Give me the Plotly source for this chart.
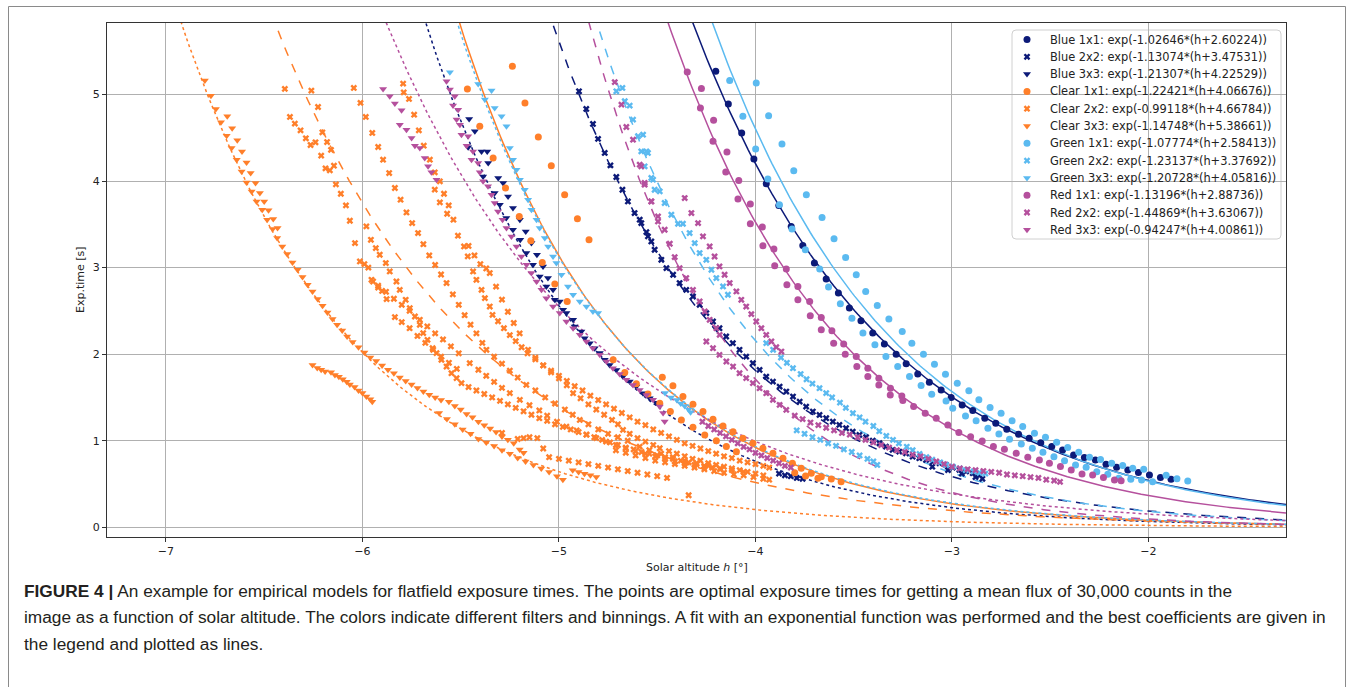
import numpy as np
import plotly.graph_objects as go

# ---------------- data ----------------
# fit coefficients from the legend: t = exp(A*(h+B))
FIT_LABELS = ["Blue 1x1", "Blue 2x2", "Blue 3x3", "Clear 1x1", "Clear 2x2", "Clear 3x3",
              "Green 1x1", "Green 2x2", "Green 3x3", "Red 1x1", "Red 2x2", "Red 3x3"]
FIT_A = [-1.02646, -1.13074, -1.21307, -1.22421, -0.99118, -1.14748,
         -1.07774, -1.23137, -1.20728, -1.13196, -1.44869, -0.94247]
FIT_B = [2.60224, 3.47531, 4.22529, 4.06676, 4.66784, 5.38661,
         2.58413, 3.37692, 4.05816, 2.88736, 3.63067, 4.00861]
FIT_TEXT_A = ["-1.02646", "-1.13074", "-1.21307", "-1.22421", "-0.99118", "-1.14748",
              "-1.07774", "-1.23137", "-1.20728", "-1.13196", "-1.44869", "-0.94247"]
FIT_TEXT_B = ["2.60224", "3.47531", "4.22529", "4.06676", "4.66784", "5.38661",
              "2.58413", "3.37692", "4.05816", "2.88736", "3.63067", "4.00861"]

BLUE_1X1 = [(-4.202, 5.267), (-4.138, 4.890), (-4.070, 4.555), (-4.008, 4.254), (-3.945, 3.969),
            (-3.881, 3.718), (-3.818, 3.475), (-3.759, 3.256), (-3.700, 3.052), (-3.640, 2.867),
            (-3.578, 2.705), (-3.522, 2.532), (-3.463, 2.385), (-3.403, 2.243), (-3.344, 2.116),
            (-3.284, 2.000), (-3.233, 1.888), (-3.174, 1.772), (-3.115, 1.676), (-3.055, 1.587),
            (-3.004, 1.498), (-2.948, 1.414), (-2.894, 1.348), (-2.833, 1.260), (-2.777, 1.202),
            (-2.721, 1.133), (-2.661, 1.075), (-2.607, 1.029), (-2.548, 0.978), (-2.492, 0.932),
            (-2.437, 0.894), (-2.381, 0.836), (-2.326, 0.805), (-2.270, 0.778), (-2.216, 0.728),
            (-2.162, 0.693), (-2.105, 0.662), (-2.051, 0.632), (-1.995, 0.605), (-1.939, 0.574),
            (-1.885, 0.555)]

BLUE_2X2 = [(-4.898, 5.036), (-4.861, 4.832), (-4.827, 4.659), (-4.801, 4.486), (-4.767, 4.324),
            (-4.738, 4.181), (-4.708, 4.046), (-4.677, 3.899), (-4.649, 3.764), (-4.615, 3.630),
            (-4.589, 3.553), (-4.581, 3.514), (-4.555, 3.410), (-4.547, 3.360), (-4.530, 3.302),
            (-4.513, 3.206), (-4.479, 3.090), (-4.453, 2.994), (-4.419, 2.917), (-4.386, 2.821),
            (-4.352, 2.743), (-4.318, 2.666), (-4.284, 2.570), (-4.250, 2.474), (-4.216, 2.377),
            (-4.183, 2.300), (-4.149, 2.204), (-4.115, 2.127), (-4.081, 2.050), (-4.047, 1.972),
            (-4.013, 1.896), (-3.979, 1.818), (-3.945, 1.741), (-3.911, 1.683), (-3.877, 1.625),
            (-3.843, 1.568), (-3.809, 1.510), (-3.775, 1.452), (-3.742, 1.394), (-3.708, 1.337),
            (-3.674, 1.298), (-3.640, 1.260), (-3.606, 1.221), (-3.573, 1.183), (-3.539, 1.144),
            (-3.505, 1.105), (-3.471, 1.067), (-3.437, 1.040), (-3.403, 1.001), (-3.369, 0.971),
            (-3.336, 0.932), (-3.302, 0.894), (-3.268, 0.874), (-3.234, 0.855), (-3.200, 0.816),
            (-3.166, 0.798), (-3.132, 0.778), (-3.098, 0.758), (-3.063, 0.740), (-3.030, 0.720),
            (-2.996, 0.690), (-2.962, 0.665), (-2.928, 0.645), (-2.894, 0.625), (-2.860, 0.600),
            (-2.845, 0.560), (-3.10, 0.70), (-3.02, 0.66), (-2.95, 0.62), (-2.88, 0.58),
            (-3.88, 0.62), (-3.85, 0.60), (-3.82, 0.59), (-3.79, 0.57), (-3.76, 0.56)]

BLUE_3X3 = [(-5.457, 4.716), (-5.428, 4.574), (-5.462, 4.389), (-5.394, 4.342), (-5.365, 4.342),
            (-5.360, 4.208), (-5.386, 4.053), (-5.309, 4.034), (-5.284, 3.977), (-5.327, 3.861),
            (-5.259, 3.822), (-5.301, 3.726), (-5.234, 3.688), (-5.268, 3.572), (-5.199, 3.553),
            (-5.234, 3.437), (-5.169, 3.418), (-5.197, 3.321), (-5.140, 3.283), (-5.166, 3.168),
            (-5.112, 3.148), (-5.132, 3.032), (-5.081, 3.013), (-5.098, 2.897), (-5.056, 2.879),
            (-5.064, 2.782), (-5.030, 2.743), (-5.021, 2.628), (-4.996, 2.608), (-4.979, 2.512),
            (-4.962, 2.474), (-4.928, 2.397), (-4.920, 2.319), (-4.886, 2.261), (-4.869, 2.185),
            (-4.843, 2.127), (-4.818, 2.069), (-4.792, 2.012), (-4.767, 1.934), (-4.742, 1.876),
            (-4.708, 1.818), (-4.674, 1.741), (-4.640, 1.683), (-4.606, 1.625), (-4.572, 1.549),
            (-4.538, 1.491), (-4.504, 1.440)]

CLEAR_1X1 = [(-5.237, 5.325), (-5.466, 5.064), (-5.173, 4.902), (-5.403, 4.631), (-5.105, 4.509),
             (-5.335, 4.266), (-5.039, 4.177), (-5.272, 3.919), (-4.971, 3.842), (-5.202, 3.591),
             (-4.906, 3.564), (-5.143, 3.310), (-4.847, 3.321), (-5.085, 3.059), (-5.021, 2.809),
             (-4.958, 2.608), (-4.724, 1.934), (-4.665, 1.788), (-4.606, 1.657), (-4.547, 1.541),
             (-4.474, 1.734), (-4.420, 1.634), (-4.369, 1.510), (-4.318, 1.422), (-4.267, 1.337),
             (-4.216, 1.248), (-4.165, 1.171), (-4.114, 1.105), (-4.064, 1.029), (-4.013, 0.971),
             (-3.962, 0.913), (-4.487, 1.434), (-4.433, 1.337), (-4.377, 1.240), (-4.318, 1.156),
             (-4.258, 1.067), (-4.199, 1.001), (-4.148, 0.932), (-4.097, 0.874), (-3.911, 0.855),
             (-3.860, 0.798), (-3.812, 0.740), (-3.767, 0.682), (-3.716, 0.624), (-3.665, 0.585),
             (-3.614, 0.558), (-3.564, 0.527), (-3.800, 0.631), (-3.745, 0.593), (-3.682, 0.566)]

CLEAR_2X2 = [
    # band A
    (-6.395, 5.064), (-6.369, 4.740), (-6.344, 4.663), (-6.315, 4.585), (-6.288, 4.493),
    (-6.264, 4.416), (-6.239, 4.447), (-6.210, 4.293), (-6.188, 4.146), (-6.166, 4.123),
    (-6.145, 4.177), (-6.135, 3.961), (-6.110, 3.853), (-6.084, 3.718), (-6.064, 3.541),
    (-6.038, 3.283), (-6.013, 3.071), (-5.990, 3.040), (-5.970, 3.000), (-5.946, 2.839),
    (-5.920, 2.770), (-5.900, 2.730), (-5.877, 2.636), (-5.835, 2.428), (-5.800, 2.370),
    (-5.760, 2.300), (-5.720, 2.210), (-5.680, 2.130), (-5.640, 2.050), (-5.600, 1.970),
    (-5.560, 1.900), (-5.520, 1.830),
    (-6.260, 5.044), (-6.226, 4.855), (-6.204, 4.562), (-6.180, 4.450), (-6.160, 4.360),
    # band B
    (-6.044, 5.075), (-6.010, 4.902), (-5.983, 4.740), (-5.950, 4.555), (-5.920, 4.393),
    (-5.895, 4.246), (-5.864, 4.092), (-5.835, 3.919), (-5.806, 3.784), (-5.776, 3.637),
    (-5.747, 3.514), (-5.717, 3.399), (-5.690, 3.270), (-5.660, 3.140), (-5.630, 3.030),
    (-5.600, 2.920), (-5.572, 2.821), (-5.540, 2.690), (-5.510, 2.570), (-5.480, 2.450),
    (-5.450, 2.340), (-5.420, 2.240), (-5.390, 2.130), (-5.369, 2.050), (-5.330, 1.970),
    (-5.290, 1.890), (-5.250, 1.810), (-5.210, 1.730), (-5.166, 1.645), (-5.120, 1.580),
    (-5.070, 1.500), (-5.020, 1.430), (-4.970, 1.360), (-4.930, 1.300), (-4.894, 1.240),
    (-4.850, 1.190), (-4.800, 1.130), (-4.750, 1.080), (-4.700, 1.040), (-4.650, 1.000),
    (-4.589, 0.932), (-4.540, 0.890), (-4.480, 0.850), (-4.420, 0.810), (-4.360, 0.770),
    (-4.300, 0.740), (-4.240, 0.710), (-4.180, 0.680), (-4.120, 0.660), (-4.060, 0.640),
    # band C
    (-5.793, 5.125), (-5.790, 5.024), (-5.763, 4.948), (-5.737, 4.766), (-5.713, 4.585),
    (-5.688, 4.408), (-5.657, 4.246), (-5.632, 4.100), (-5.606, 3.996), (-5.632, 3.900),
    (-5.585, 3.853), (-5.606, 3.753), (-5.561, 3.718), (-5.569, 3.622), (-5.537, 3.553),
    (-5.514, 3.368), (-5.483, 3.244), (-5.464, 3.129), (-5.437, 2.955), (-5.420, 2.859),
    (-5.394, 2.743), (-5.377, 2.647), (-5.352, 2.550), (-5.338, 2.454), (-5.310, 2.380),
    (-5.280, 2.300), (-5.250, 2.220), (-5.220, 2.150), (-5.190, 2.080), (-5.160, 2.010),
    (-5.120, 1.940), (-5.080, 1.870), (-5.040, 1.810), (-5.000, 1.750), (-4.960, 1.690),
    (-4.920, 1.630), (-4.880, 1.580), (-4.840, 1.520), (-4.800, 1.470), (-4.760, 1.420),
    (-4.720, 1.370), (-4.680, 1.320), (-4.640, 1.270), (-4.600, 1.220), (-4.560, 1.180),
    (-4.520, 1.130), (-4.480, 1.090), (-4.440, 1.050), (-4.400, 1.010), (-4.360, 0.970),
    (-4.320, 0.940), (-4.280, 0.910), (-4.240, 0.880), (-4.200, 0.850), (-4.160, 0.820),
    (-4.120, 0.800), (-4.080, 0.770), (-4.040, 0.750), (-4.000, 0.730), (-3.960, 0.710),
    (-3.930, 0.690),
    # band D
    (-5.980, 3.476), (-5.957, 3.321), (-5.932, 3.225), (-5.912, 3.148), (-5.881, 3.052),
    (-5.861, 2.955), (-5.827, 2.839), (-5.810, 2.743), (-5.780, 2.628), (-5.759, 2.532),
    (-5.733, 2.435), (-5.708, 2.339), (-5.691, 2.243), (-5.669, 2.165), (-5.643, 2.069),
    (-5.623, 2.012), (-5.598, 1.934), (-5.572, 1.857), (-5.547, 1.780), (-5.521, 1.723),
    (-5.496, 1.665), (-5.460, 1.620), (-5.420, 1.580), (-5.380, 1.540), (-5.340, 1.500),
    (-5.300, 1.460), (-5.260, 1.420), (-5.220, 1.380), (-5.180, 1.340), (-5.140, 1.300),
    (-5.100, 1.260), (-5.060, 1.230), (-5.020, 1.190), (-4.980, 1.160), (-4.940, 1.130),
    (-4.900, 1.100), (-4.860, 1.070), (-4.820, 1.040), (-4.780, 1.010), (-4.740, 0.980),
    (-4.700, 0.950), (-4.660, 0.920), (-4.620, 0.900), (-4.580, 0.870), (-4.540, 0.850),
    (-4.500, 0.830), (-4.460, 0.810), (-4.420, 0.790), (-4.380, 0.770), (-4.340, 0.750),
    (-4.300, 0.730), (-4.260, 0.710), (-4.220, 0.690), (-4.180, 0.670),
    # band E
    (-5.460, 3.250), (-5.430, 3.140), (-5.400, 3.040), (-5.370, 2.990), (-5.352, 2.937),
    (-5.320, 2.780), (-5.290, 2.630), (-5.260, 2.490), (-5.230, 2.360), (-5.200, 2.240),
    (-5.157, 2.050), (-5.120, 1.960), (-5.080, 1.870), (-5.040, 1.790), (-5.000, 1.720),
    (-4.960, 1.640), (-4.928, 1.549), (-4.890, 1.490), (-4.850, 1.420), (-4.810, 1.360),
    (-4.770, 1.300), (-4.730, 1.240), (-4.700, 1.190), (-4.674, 1.125), (-4.640, 1.080),
    (-4.600, 1.030), (-4.560, 0.990), (-4.520, 0.950), (-4.487, 0.913), (-4.440, 0.880),
    (-4.400, 0.850), (-4.360, 0.820), (-4.320, 0.790), (-4.280, 0.770), (-4.240, 0.740),
    (-4.200, 0.720), (-4.160, 0.700), (-4.120, 0.680), (-4.080, 0.660), (-4.040, 0.640),
    (-4.000, 0.620), (-3.960, 0.600),
    # band F
    (-5.954, 2.859), (-5.920, 2.790), (-5.880, 2.720), (-5.840, 2.640), (-5.800, 2.570),
    (-5.760, 2.500), (-5.708, 2.397), (-5.670, 2.320), (-5.630, 2.240), (-5.590, 2.170),
    (-5.550, 2.090), (-5.510, 2.010), (-5.454, 1.896), (-5.410, 1.820), (-5.370, 1.750),
    (-5.330, 1.680), (-5.290, 1.610), (-5.250, 1.550), (-5.199, 1.472), (-5.150, 1.410),
    (-5.100, 1.350), (-5.060, 1.290), (-5.010, 1.220), (-4.962, 1.163), (-4.910, 1.120),
    (-4.860, 1.070), (-4.810, 1.030), (-4.760, 0.990), (-4.710, 0.950), (-4.660, 0.910),
    (-4.610, 0.880), (-4.560, 0.850), (-4.510, 0.820), (-4.460, 0.790), (-4.410, 0.760),
    (-4.360, 0.740), (-4.310, 0.720), (-4.260, 0.700),
    # band G
    (-5.050, 0.810), (-5.000, 0.790), (-4.950, 0.770), (-4.900, 0.750), (-4.850, 0.730),
    (-4.800, 0.710), (-4.750, 0.690), (-4.700, 0.670), (-4.650, 0.650), (-4.600, 0.630),
    (-4.550, 0.610), (-4.500, 0.590), (-4.450, 0.570),
    # band H
    (-4.710, 0.890), (-4.660, 0.860), (-4.610, 0.830), (-4.560, 0.800), (-4.510, 0.770),
    (-4.460, 0.750), (-4.410, 0.730), (-4.360, 0.710), (-4.310, 0.690), (-4.260, 0.670),
    (-4.210, 0.650), (-4.160, 0.630), (-4.110, 0.610), (-4.060, 0.600), (-4.010, 0.580),
    (-3.960, 0.560), (-3.930, 0.550),
    # scattered
    (-5.290, 1.090), (-5.210, 1.020), (-5.180, 1.030), (-5.150, 1.040), (-5.110, 1.030),
    (-5.080, 0.910), (-4.340, 0.370)]

CLEAR_3X3 = [
    # upper band, row a
    (-6.802, 5.160), (-6.771, 4.986), (-6.746, 4.832), (-6.720, 4.678), (-6.691, 4.524),
    (-6.666, 4.381), (-6.640, 4.246), (-6.615, 4.111), (-6.590, 3.984), (-6.564, 3.880),
    (-6.539, 3.764), (-6.510, 3.668), (-6.485, 3.553), (-6.457, 3.445), (-6.434, 3.341),
    (-6.408, 3.244), (-6.383, 3.156), (-6.356, 3.059), (-6.330, 2.975), (-6.305, 2.890),
    (-6.279, 2.801), (-6.254, 2.724), (-6.228, 2.636), (-6.203, 2.558), (-6.178, 2.481),
    (-6.152, 2.405), (-6.129, 2.339), (-6.103, 2.273), (-6.078, 2.204),
    # row b
    (-6.688, 4.747), (-6.663, 4.608), (-6.637, 4.470), (-6.613, 4.342), (-6.590, 4.215),
    (-6.569, 4.092), (-6.544, 3.977), (-6.522, 3.861), (-6.500, 3.764), (-6.478, 3.661),
    (-6.454, 3.561), (-6.432, 3.457),
    # continuation
    (-6.050, 2.140), (-6.020, 2.080), (-5.990, 2.020), (-5.960, 1.960), (-5.930, 1.920),
    (-5.900, 1.870), (-5.870, 1.820), (-5.840, 1.780), (-5.810, 1.730), (-5.780, 1.690),
    (-5.750, 1.650), (-5.720, 1.610), (-5.690, 1.570), (-5.660, 1.530), (-5.630, 1.500),
    (-5.600, 1.470), (-5.560, 1.450), (-5.530, 1.400), (-5.500, 1.360), (-5.470, 1.310),
    (-5.440, 1.270), (-5.410, 1.220), (-5.380, 1.180), (-5.350, 1.140), (-5.320, 1.100),
    (-5.290, 1.050), (-5.260, 1.010), (-5.230, 0.970), (-5.200, 0.900), (-5.180, 0.860),
    # short lower band
    (-6.254, 1.876), (-6.230, 1.840), (-6.210, 1.820), (-6.190, 1.800), (-6.160, 1.790),
    (-6.140, 1.760), (-6.120, 1.740), (-6.100, 1.710), (-6.080, 1.680), (-6.064, 1.650),
    (-6.040, 1.620), (-6.020, 1.580), (-6.000, 1.550), (-5.980, 1.510), (-5.960, 1.480),
    (-5.950, 1.450),
    # lowest band
    (-5.610, 1.320), (-5.570, 1.250), (-5.530, 1.190), (-5.490, 1.130), (-5.450, 1.080),
    (-5.410, 1.020), (-5.370, 0.980), (-5.330, 0.940), (-5.290, 0.890), (-5.250, 0.850),
    (-5.210, 0.800), (-5.170, 0.760), (-5.130, 0.720), (-5.090, 0.680), (-5.050, 0.640),
    (-5.010, 0.590), (-4.980, 0.550),
    (-4.930, 0.660), (-4.900, 0.640), (-4.870, 0.620), (-4.840, 0.600), (-4.810, 0.580)]

GREEN_1X1 = [(-4.131, 5.160), (-3.996, 5.133), (-4.064, 4.747), (-3.933, 4.755), (-3.999, 4.370),
             (-3.865, 4.428), (-3.937, 4.023), (-3.805, 4.119), (-3.878, 3.726), (-3.741, 3.842),
             (-3.814, 3.445), (-3.661, 3.579), (-3.746, 3.206), (-3.600, 3.333), (-3.673, 2.983),
             (-3.541, 3.117), (-3.628, 2.775), (-3.487, 2.917), (-3.568, 2.582), (-3.439, 2.724),
             (-3.509, 2.416), (-3.380, 2.562), (-3.453, 2.243), (-3.321, 2.405), (-3.392, 2.108),
             (-3.253, 2.261), (-3.336, 1.972), (-3.204, 2.127), (-3.276, 1.857), (-3.145, 2.000),
             (-3.216, 1.741), (-3.089, 1.884), (-3.157, 1.637), (-3.033, 1.769), (-3.103, 1.538),
             (-2.973, 1.665), (-3.030, 1.460), (-2.914, 1.576), (-2.996, 1.376), (-2.863, 1.472),
             (-2.806, 1.383), (-2.750, 1.318), (-2.694, 1.232), (-2.640, 1.163), (-2.580, 1.087),
             (-2.524, 1.040), (-2.467, 0.983), (-2.411, 0.921), (-2.355, 0.867), (-2.300, 0.809),
             (-2.244, 0.782), (-2.187, 0.740), (-2.131, 0.713), (-2.080, 0.682), (-2.024, 0.671),
             (-1.910, 0.600), (-1.855, 0.560), (-1.800, 0.535),
             (-2.931, 1.287), (-2.877, 1.232), (-2.817, 1.144), (-2.761, 1.079), (-2.707, 1.017),
             (-2.647, 0.963), (-2.591, 0.913), (-2.537, 0.867), (-2.481, 0.816), (-2.427, 0.770),
             (-2.371, 0.720), (-2.317, 0.693), (-2.263, 0.643), (-2.207, 0.613), (-2.151, 0.566),
             (-2.090, 0.556), (-2.035, 0.547), (-1.979, 0.527)]

GREEN_2X2 = [(-4.708, 5.036), (-4.677, 5.075), (-4.665, 4.921), (-4.640, 4.871), (-4.623, 4.709),
             (-4.598, 4.516), (-4.581, 4.342), (-4.547, 4.324), (-4.564, 4.169), (-4.530, 4.035),
             (-4.513, 3.899), (-4.572, 4.535), (-4.555, 4.342), (-4.521, 4.015), (-4.487, 3.880),
             (-4.462, 3.746), (-4.428, 3.610), (-4.394, 3.506), (-4.369, 3.506), (-4.335, 3.399),
             (-4.309, 3.283), (-4.284, 3.168), (-4.250, 3.090), (-4.224, 2.975), (-4.199, 2.879),
             (-4.165, 2.782), (-4.140, 2.686),
             (-3.945, 2.127), (-3.910, 2.050), (-3.870, 1.960), (-3.840, 1.900), (-3.809, 1.838),
             (-3.770, 1.770), (-3.740, 1.710), (-3.710, 1.660), (-3.674, 1.607), (-3.640, 1.550),
             (-3.610, 1.500), (-3.570, 1.440), (-3.540, 1.380), (-3.504, 1.318), (-3.470, 1.270),
             (-3.440, 1.220), (-3.400, 1.170), (-3.370, 1.110), (-3.334, 1.055), (-3.300, 1.010),
             (-3.270, 0.970), (-3.230, 0.930), (-3.200, 0.890), (-3.165, 0.847), (-3.130, 0.810),
             (-3.100, 0.780), (-3.060, 0.750), (-3.030, 0.720), (-2.995, 0.701), (-2.960, 0.680),
             (-2.930, 0.660), (-2.890, 0.645), (-2.860, 0.630), (-2.830, 0.620),
             (-3.790, 1.120), (-3.750, 1.080), (-3.710, 1.040), (-3.670, 1.010), (-3.630, 0.970),
             (-3.590, 0.940), (-3.550, 0.900), (-3.510, 0.870), (-3.470, 0.830), (-3.430, 0.790),
             (-3.400, 0.760), (-3.380, 0.720)]

GREEN_3X3 = [(-5.555, 5.256), (-5.411, 5.121), (-5.343, 5.044), (-5.377, 4.940), (-5.327, 4.844),
             (-5.292, 4.747), (-5.267, 4.631), (-5.250, 4.382), (-5.234, 4.246), (-5.216, 4.131),
             (-5.199, 4.015), (-5.174, 3.899), (-5.157, 3.784), (-5.140, 3.668), (-5.114, 3.553),
             (-5.098, 3.457), (-5.072, 3.341), (-5.055, 3.244), (-5.030, 3.128), (-5.013, 3.052),
             (-4.987, 2.917), (-4.954, 2.782), (-4.928, 2.686), (-4.894, 2.608), (-4.860, 2.550),
             (-4.827, 2.493), (-4.801, 2.474),
             (-4.460, 1.550), (-4.430, 1.500), (-4.400, 1.470), (-4.380, 1.430), (-4.360, 1.400),
             (-4.340, 1.360), (-4.330, 1.330)]

RED_1X1 = [(-4.347, 5.260), (-4.275, 5.067), (-4.280, 4.844), (-4.213, 4.701), (-4.216, 4.458),
           (-4.145, 4.335), (-4.151, 4.104), (-4.085, 4.007), (-4.089, 3.792), (-4.026, 3.734),
           (-4.026, 3.506), (-3.965, 3.468), (-3.962, 3.252), (-3.906, 3.214), (-3.902, 3.021),
           (-3.843, 2.983), (-3.840, 2.801), (-3.784, 2.782), (-3.784, 2.628), (-3.724, 2.608),
           (-3.721, 2.443), (-3.665, 2.423), (-3.665, 2.281), (-3.611, 2.269), (-3.602, 2.127),
           (-3.551, 2.116), (-3.543, 2.000), (-3.487, 1.972), (-3.484, 1.857), (-3.428, 1.838),
           (-3.428, 1.741), (-3.372, 1.723), (-3.372, 1.645), (-3.313, 1.607), (-3.314, 1.529),
           (-3.255, 1.518), (-3.250, 1.464), (-3.195, 1.394), (-3.136, 1.318), (-3.080, 1.260),
           (-3.021, 1.183), (-2.965, 1.094), (-2.905, 1.047), (-2.846, 0.998), (-2.789, 0.932),
           (-2.733, 0.901), (-2.673, 0.855), (-2.614, 0.809), (-2.555, 0.778), (-2.504, 0.740),
           (-2.448, 0.701), (-2.393, 0.662), (-2.338, 0.616), (-2.284, 0.605), (-2.229, 0.574),
           (-2.173, 0.547), (-2.139, 0.539)]

RED_2X2 = [(-4.716, 5.142), (-4.682, 4.882), (-4.657, 4.624), (-4.623, 4.477), (-4.589, 4.189),
           (-4.564, 3.977), (-4.530, 3.764), (-4.496, 3.533),
           (-4.581, 4.169), (-4.564, 3.957), (-4.530, 3.764), (-4.496, 3.591), (-4.462, 3.437),
           (-4.436, 3.275), (-4.411, 3.121), (-4.386, 2.994), (-4.352, 2.879), (-4.318, 2.743),
           (-4.284, 2.608), (-4.258, 2.493), (-4.233, 2.397), (-4.199, 2.300), (-4.182, 2.223),
           (-4.360, 3.803), (-4.326, 3.630), (-4.292, 3.514), (-4.267, 3.360), (-4.233, 3.244),
           (-4.208, 3.128), (-4.183, 3.013), (-4.157, 2.917), (-4.131, 2.821), (-4.097, 2.724),
           (-4.072, 2.628), (-4.047, 2.550), (-4.021, 2.462), (-3.996, 2.377), (-3.970, 2.300),
           (-3.945, 2.223), (-3.919, 2.146), (-3.894, 2.081), (-3.868, 2.030),
           (-4.250, 2.146), (-4.216, 2.069), (-4.183, 1.992), (-4.148, 1.915), (-4.114, 1.857),
           (-4.081, 1.780), (-4.047, 1.723), (-4.013, 1.665), (-3.979, 1.607), (-3.945, 1.549),
           (-3.911, 1.472), (-3.877, 1.414), (-3.843, 1.356), (-3.800, 1.290), (-3.760, 1.250),
           (-3.720, 1.210), (-3.680, 1.180), (-3.640, 1.150), (-3.600, 1.120), (-3.560, 1.090),
           (-3.520, 1.070), (-3.480, 1.040), (-3.440, 1.010), (-3.400, 0.980), (-3.360, 0.950),
           (-3.320, 0.920), (-3.280, 0.890), (-3.240, 0.870), (-3.200, 0.840), (-3.160, 0.820),
           (-3.120, 0.790), (-3.080, 0.760), (-3.040, 0.730), (-3.000, 0.700), (-2.960, 0.680),
           (-2.920, 0.670), (-2.880, 0.660), (-2.840, 0.650), (-2.800, 0.640), (-2.760, 0.630),
           (-2.720, 0.610), (-2.680, 0.600), (-2.640, 0.590), (-2.600, 0.580), (-2.560, 0.570),
           (-2.520, 0.550), (-2.480, 0.540), (-2.450, 0.525),
           (-4.270, 1.220), (-4.240, 1.170), (-4.210, 1.130), (-4.180, 1.090), (-4.150, 1.050),
           (-4.120, 1.010), (-4.090, 0.970), (-4.060, 0.930), (-4.030, 0.900), (-4.000, 0.860),
           (-3.970, 0.830), (-3.940, 0.800), (-3.910, 0.770), (-3.880, 0.740), (-3.850, 0.710),
           (-3.820, 0.690)]

RED_3X3 = [(-5.895, 5.064), (-5.861, 4.978), (-5.835, 4.894), (-5.801, 4.816), (-5.810, 4.651),
           (-5.776, 4.593), (-5.750, 4.497), (-5.733, 4.408), (-5.708, 4.382), (-5.683, 4.266),
           (-5.666, 4.169), (-5.649, 4.100), (-5.623, 4.015),
           (-5.572, 5.152), (-5.555, 5.056), (-5.530, 4.978), (-5.539, 4.871), (-5.513, 4.824),
           (-5.521, 4.709), (-5.504, 4.651), (-5.496, 4.535), (-5.462, 4.516), (-5.470, 4.408),
           (-5.437, 4.342), (-5.445, 4.246), (-5.411, 4.208), (-5.403, 4.100), (-5.386, 3.996),
           (-5.361, 3.938), (-5.343, 3.842), (-5.327, 3.746), (-5.310, 3.649), (-5.287, 3.553),
           (-5.267, 3.457), (-5.242, 3.360), (-5.216, 3.244), (-5.191, 3.128), (-5.165, 3.032),
           (-5.140, 2.936), (-5.114, 2.839), (-5.089, 2.743), (-5.064, 2.647), (-5.030, 2.550),
           (-4.996, 2.474), (-4.962, 2.377), (-4.928, 2.300), (-4.894, 2.223), (-4.860, 2.146),
           (-4.827, 2.069), (-4.792, 1.992), (-4.758, 1.915), (-4.725, 1.838), (-4.691, 1.772),
           (-4.657, 1.703), (-4.623, 1.645), (-4.589, 1.587), (-4.555, 1.529), (-4.521, 1.472),
           (-4.487, 1.394), (-4.470, 1.320), (-4.462, 1.221)]

SERIES = [BLUE_1X1, BLUE_2X2, BLUE_3X3, CLEAR_1X1, CLEAR_2X2, CLEAR_3X3,
          GREEN_1X1, GREEN_2X2, GREEN_3X3, RED_1X1, RED_2X2, RED_3X3]

# ---------------- styles ----------------
NAVY, ORANGE, SKY, PURPLE = "#0c1a78", "#ff7f2a", "#5bbaf0", "#b5509d"
COLORS = [NAVY] * 3 + [ORANGE] * 3 + [SKY] * 3 + [PURPLE] * 3
SYMBOLS = ["circle", "x", "triangle-down"] * 4
SIZES = [7, 6, 7] * 4
DASHES = ["solid", "dash", "dot"] * 4

X_RANGE = [-7.30, -1.30]
Y_RANGE = [-0.112, 5.825]

W, H = 1354, 687
L, R, T, B = 107, 68, 23, 150
pw, ph = W - L - R, H - T - B


def px(xp):
    return (xp - L) / pw


def py(yp):
    return (H - B - yp) / ph


fig = go.Figure()

# fit lines
h = np.linspace(X_RANGE[0], X_RANGE[1], 400)
for i in range(12):
    t = np.exp(FIT_A[i] * (h + FIT_B[i]))
    fig.add_trace(go.Scatter(x=h, y=t, mode="lines", showlegend=False, hoverinfo="skip",
                             line=dict(color=COLORS[i], width=1.5, dash=DASHES[i])))

# data points
for i in range(12):
    pts = SERIES[i]
    fig.add_trace(go.Scatter(
        x=[p[0] for p in pts], y=[p[1] for p in pts], mode="markers", showlegend=False,
        name=FIT_LABELS[i],
        marker=dict(color=COLORS[i], symbol=SYMBOLS[i], size=SIZES[i], line=dict(width=0))))

# legend (matplotlib-like box drawn in the plot's fractional frame)
LEG_LEFT, LEG_RIGHT, LEG_TOP, LEG_BOTTOM = 1012, 1281, 30, 239
LEG_ROW0, LEG_DY, LEG_MARK_X, LEG_TEXT_X = 39.5, 17.3, 1027, 1048
for i in range(12):
    fig.add_trace(go.Scatter(
        x=[px(LEG_MARK_X)], y=[py(LEG_ROW0 + LEG_DY * i)], xaxis="x2", yaxis="y2",
        mode="markers", showlegend=False, hoverinfo="skip",
        marker=dict(color=COLORS[i], symbol=SYMBOLS[i], size=SIZES[i], line=dict(width=0))))

axis_common = dict(showgrid=True, gridcolor="#b0b0b0", gridwidth=0.8, zeroline=False,
                   showline=True, linecolor="#333333", linewidth=1, mirror=True,
                   ticks="outside", ticklen=4, tickcolor="#333333",
                   tickfont=dict(family="DejaVu Sans", size=11, color="#222222"))

fig.update_layout(
    width=W, height=H, autosize=False,
    margin=dict(l=L, r=R, t=T, b=B),
    paper_bgcolor="white", plot_bgcolor="white",
    xaxis=dict(range=X_RANGE, tickvals=[-7, -6, -5, -4, -3, -2],
               ticktext=["\u22127", "\u22126", "\u22125", "\u22124", "\u22123", "\u22122"],
               **axis_common),
    yaxis=dict(range=Y_RANGE, tickvals=[0, 1, 2, 3, 4, 5], **axis_common),
    xaxis2=dict(range=[0, 1], overlaying="x", anchor="y2", visible=False, fixedrange=True),
    yaxis2=dict(range=[0, 1], overlaying="y", anchor="x2", visible=False, fixedrange=True),
    showlegend=False,
)

annotations = [
    dict(text="Solar altitude <i>h</i> [°]", x=px(697), y=py(567), xref="paper", yref="paper",
         showarrow=False, xanchor="center", yanchor="middle",
         font=dict(family="DejaVu Sans", size=11, color="#222222")),
    dict(text="Exp.time [s]", x=px(80), y=py(280), xref="paper", yref="paper", textangle=-90,
         showarrow=False, xanchor="center", yanchor="middle",
         font=dict(family="DejaVu Sans", size=11, color="#222222")),
]
for i in range(12):
    annotations.append(dict(
        text=f"{FIT_LABELS[i]}: exp({FIT_TEXT_A[i]}*(h+{FIT_TEXT_B[i]}))",
        x=px(LEG_TEXT_X), y=py(LEG_ROW0 + LEG_DY * i), xref="paper", yref="paper",
        showarrow=False, xanchor="left", yanchor="middle",
        font=dict(family="DejaVu Sans", size=11.4, color="#222222")))

CAPTION = [
    "<b>FIGURE 4 |</b> An example for empirical models for flatfield exposure times. The points are optimal exposure times for getting a mean flux of 30,000 counts in the",
    "image as a function of solar altitude. The colors indicate different filters and binnings. A fit with an exponential function was performed and the best coefficients are given in",
    "the legend and plotted as lines.",
]
for k, line in enumerate(CAPTION):
    annotations.append(dict(text=line, x=px(22), y=py(591 + 26.5 * k), xref="paper", yref="paper",
                            showarrow=False, xanchor="left", yanchor="middle",
                            font=dict(family="Liberation Sans", size=17.3, color="#231f20")))
fig.update_layout(annotations=annotations)

# rounded legend frame (between gridlines and traces)
rx, ry = 4.0 / pw, 4.0 / ph
x0, x1 = px(LEG_LEFT), px(LEG_RIGHT)
y0, y1 = py(LEG_BOTTOM), py(LEG_TOP)
path = (f"M {x0 + rx},{y0} L {x1 - rx},{y0} Q {x1},{y0} {x1},{y0 + ry} "
        f"L {x1},{y1 - ry} Q {x1},{y1} {x1 - rx},{y1} L {x0 + rx},{y1} "
        f"Q {x0},{y1} {x0},{y1 - ry} L {x0},{y0 + ry} Q {x0},{y0} {x0 + rx},{y0} Z")
fig.add_shape(type="path", path=path, xref="paper", yref="paper", layer="between",
              fillcolor="white", line=dict(color="#d0d0d0", width=1))

# outer figure frame
fig.add_shape(type="rect", xref="paper", yref="paper",
              x0=px(8.5), x1=px(1345.5), y0=py(700), y1=py(6.5),
              line=dict(color="#8a8a8a", width=1), fillcolor="rgba(0,0,0,0)", layer="below")

fig.write_html("out.html", config={"displayModeBar": False},
               post_script="document.body.style.margin='0px';")
